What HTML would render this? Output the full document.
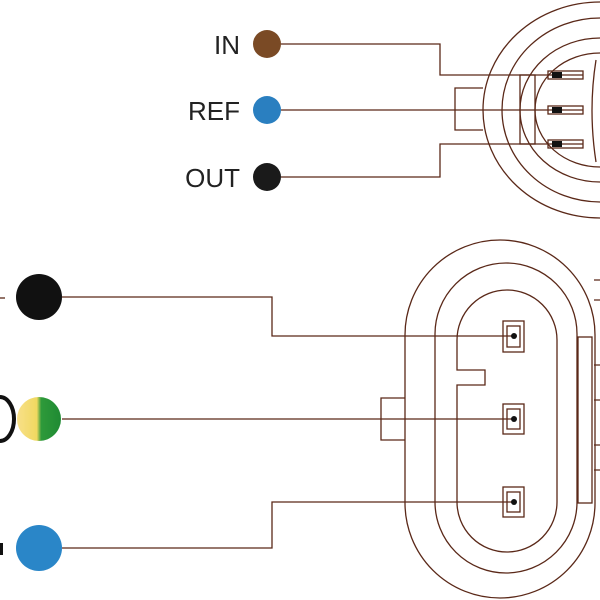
<!DOCTYPE html>
<html><head><meta charset="utf-8"><style>
html,body{margin:0;padding:0;background:#fff;width:600px;height:600px;overflow:hidden}
svg{display:block}
text{font-family:"Liberation Sans",sans-serif;font-size:26px;fill:#222}
</style></head><body>
<svg width="600" height="600" viewBox="0 0 600 600" xmlns="http://www.w3.org/2000/svg">
<defs>
<linearGradient id="yg" x1="0" x2="1" y1="0" y2="0">
<stop offset="0" stop-color="#f8e08a"/><stop offset="0.45" stop-color="#f0d860"/><stop offset="0.55" stop-color="#2e9a3a"/><stop offset="1" stop-color="#1f8a33"/>
</linearGradient>
</defs>
<g fill="none" stroke="#5a2818" stroke-width="1.3">
<!-- top connector -->
<ellipse cx="600" cy="110" rx="117" ry="108"/>
<ellipse cx="600" cy="110" rx="98" ry="92"/>
<ellipse cx="600" cy="110" rx="80" ry="72"/>
<ellipse cx="600" cy="110" rx="65" ry="57"/>
<path d="M483,88 H455 V130 H483"/>
<rect x="520" y="75" width="15" height="69"/>
<path d="M596,60 Q588,110 596,162"/>
<!-- top wires -->
<path d="M281,44 H440 V75 H583"/>
<path d="M281,110 H583"/>
<path d="M281,177 H440 V144 H583"/>
<rect x="548" y="71" width="35" height="8"/>
<rect x="548" y="106" width="35" height="8"/>
<rect x="548" y="140" width="35" height="8"/>
<!-- bottom connector -->
<rect x="405" y="240" width="190" height="358" rx="95" ry="95"/>
<rect x="435" y="263" width="142" height="310" rx="71" ry="71"/>
<path d="M457,340 A50,50 0 0 1 557,340 V502 A50,50 0 0 1 457,502 V385 H485 V370 H457 Z"/>
<path d="M405,398 H381 V440 H405"/>
<rect x="578" y="337" width="14" height="166"/>
<path d="M594,280 H600 M594,300 H600 M594,365 H600 M594,400 H600 M594,445 H600 M594,470 H600"/>
<rect x="503" y="321" width="21" height="31"/>
<rect x="507" y="326" width="13" height="21"/>
<rect x="503" y="404" width="21" height="30"/>
<rect x="507" y="409" width="13" height="20"/>
<rect x="503" y="487" width="21" height="30"/>
<rect x="507" y="492" width="13" height="20"/>
<!-- bottom wires -->
<path d="M62,297 H272 V336 H514"/>
<path d="M62,419 H514"/>
<path d="M62,548 H272 V502 H514"/>
<path d="M0,298 H5"/>
</g>
<g fill="#111">
<rect x="552" y="72" width="10" height="6"/><rect x="552" y="107" width="10" height="6"/><rect x="552" y="141" width="10" height="6"/>
<circle cx="514" cy="336" r="3"/><circle cx="514" cy="419" r="3"/><circle cx="514" cy="502" r="3"/>
</g>
<circle cx="267" cy="44" r="14" fill="#7a4a25"/>
<circle cx="267" cy="110" r="14" fill="#2a7fc0"/>
<circle cx="267" cy="177" r="14" fill="#1a1a1a"/>
<text x="240" y="54" text-anchor="end">IN</text>
<text x="240" y="120" text-anchor="end">REF</text>
<text x="240" y="187" text-anchor="end">OUT</text>
<circle cx="39" cy="297" r="23" fill="#111"/>
<circle cx="39" cy="419" r="22" fill="url(#yg)"/>
<circle cx="39" cy="548" r="23" fill="#2a86c8"/>
<path d="M0,397 A14,22 0 0 1 0,441" fill="none" stroke="#111" stroke-width="4"/>
<rect x="0" y="543" width="3" height="12" fill="#111"/>
</svg>
</body></html>
